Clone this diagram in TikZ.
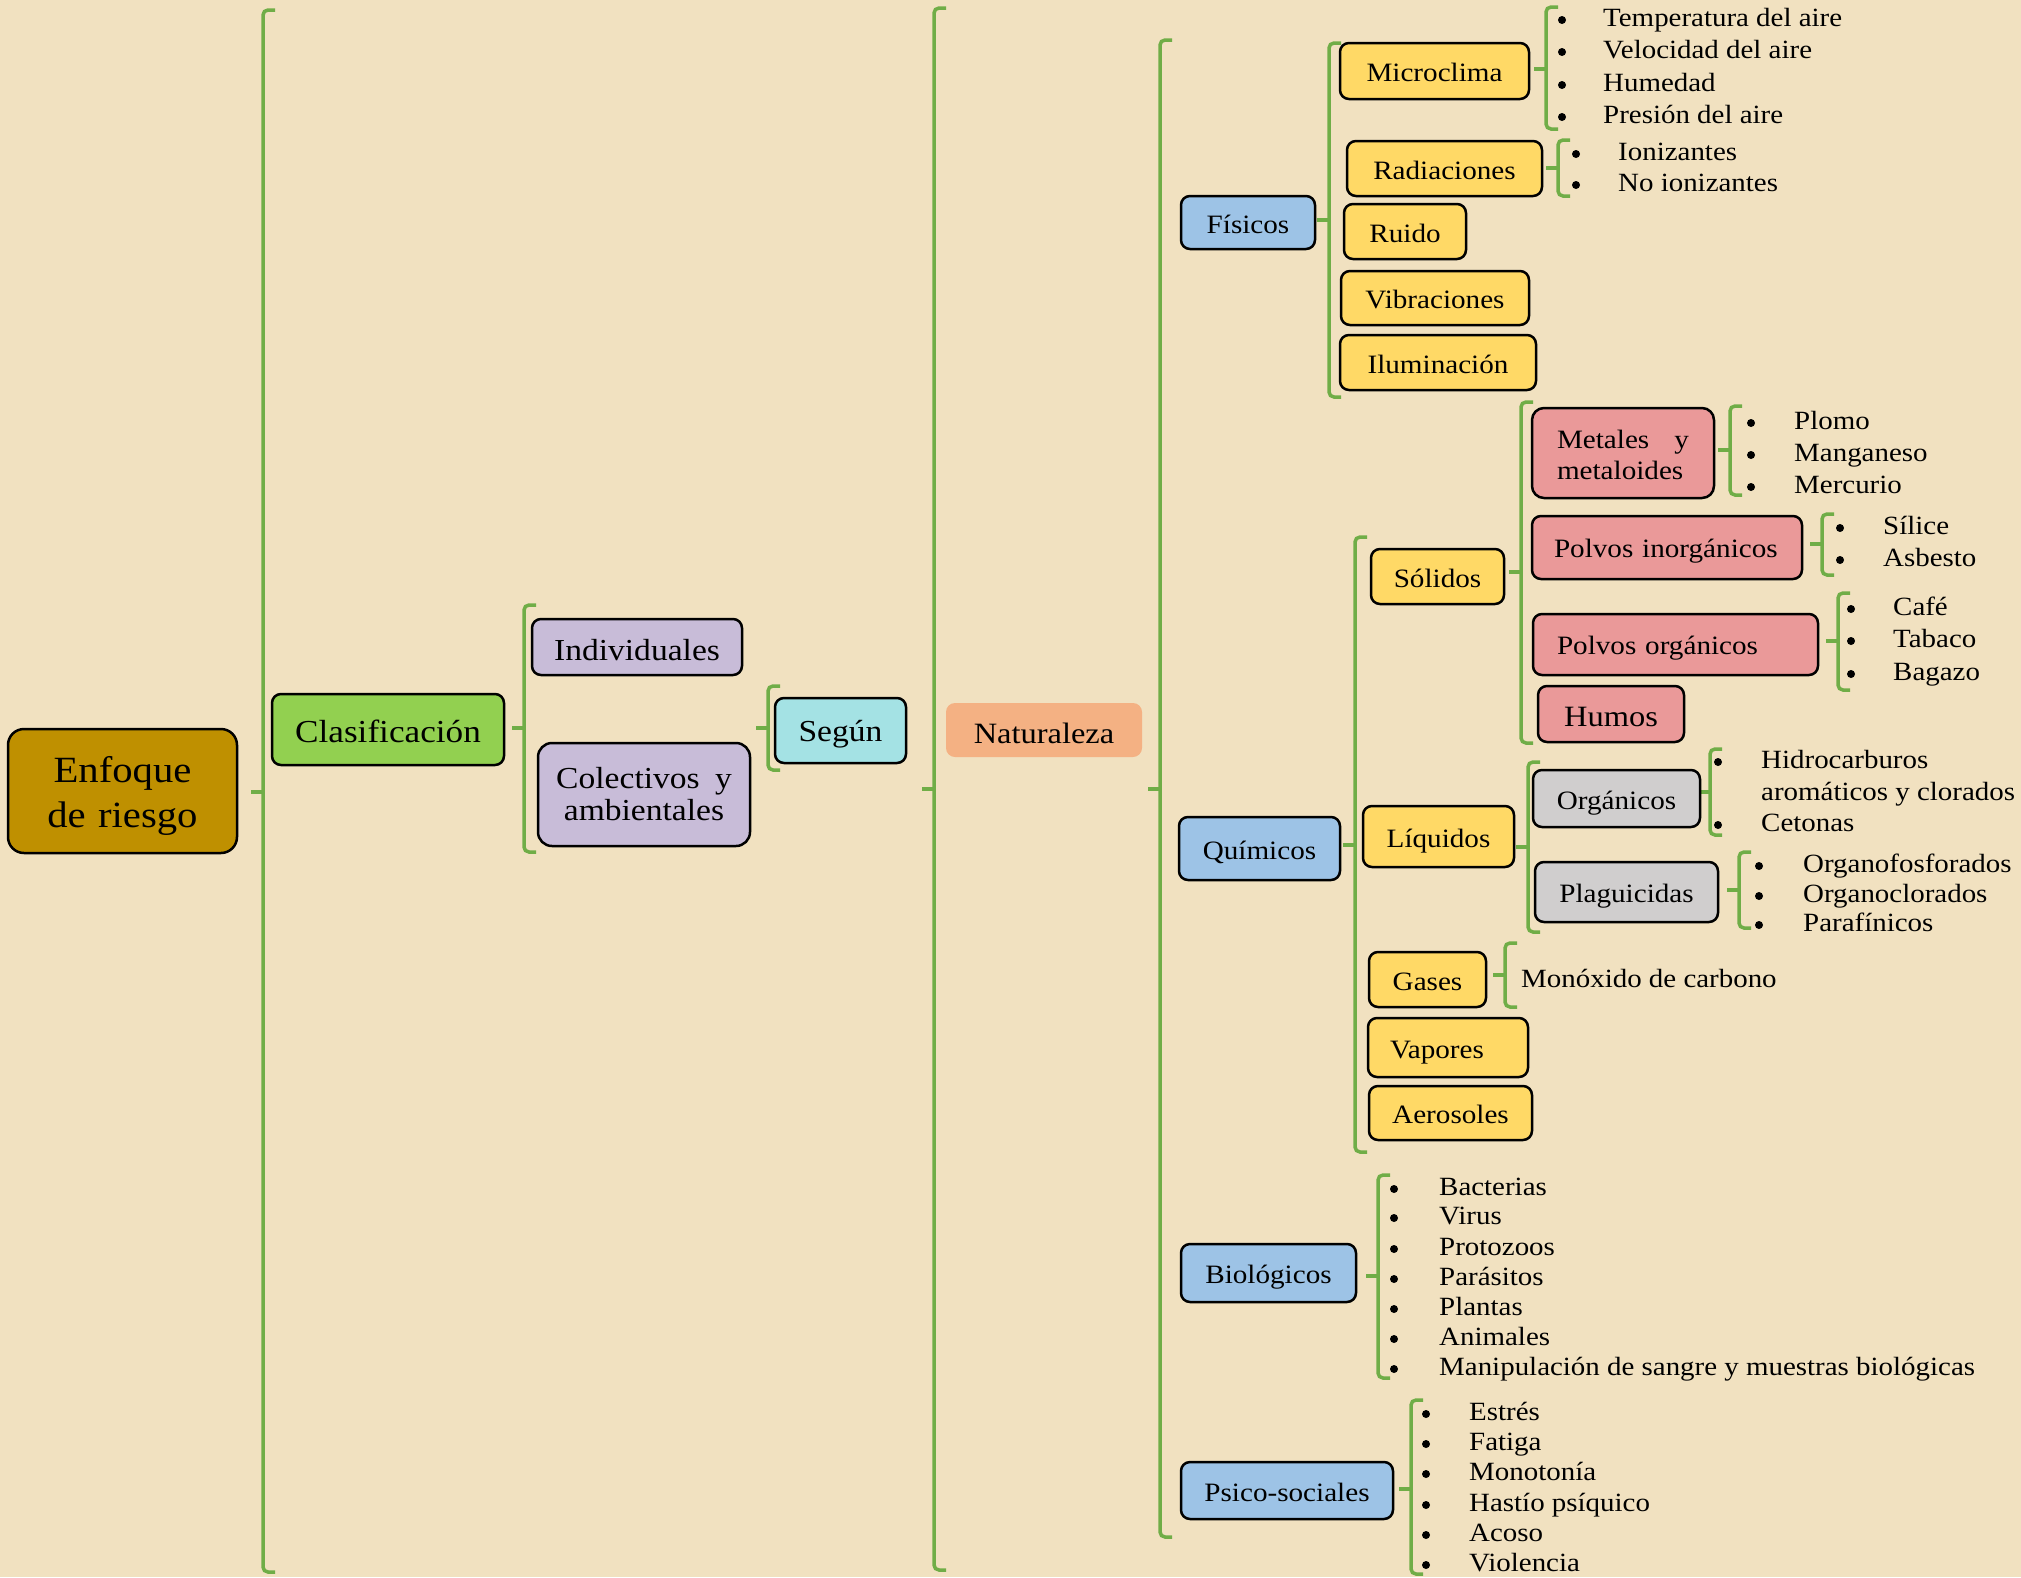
\documentclass[tikz,border=0pt]{standalone}
\usepackage{fontspec}
\setmainfont{Liberation Serif}[FakeStretch=1.1]
\usetikzlibrary{calc}
\definecolor{bg}{HTML}{F1E1C0}
\definecolor{brgreen}{HTML}{70AD47}
\definecolor{gold}{HTML}{BF9000}
\definecolor{lgreen}{HTML}{92D050}
\definecolor{lav}{HTML}{C8BCD8}
\definecolor{cyanbox}{HTML}{A4E2E4}
\definecolor{orng}{HTML}{F4B183}
\definecolor{bluebox}{HTML}{9DC3E6}
\definecolor{yel}{HTML}{FFD966}
\definecolor{pinkbox}{HTML}{EA9999}
\definecolor{graybox}{HTML}{D0CECE}
\newcommand\fsbox{\fontsize{26.5}{31}\selectfont}
\newcommand\fslist{\fontsize{26.3}{31}\selectfont}
\newcommand\fsenf{\fontsize{37}{45}\selectfont}
\newcommand\fscla{\fontsize{32}{36}\selectfont}
\newcommand\fsmid{\fontsize{30.5}{32}\selectfont}
\newcommand\fsnat{\fontsize{29.5}{32}\selectfont}
\newcommand\fshum{\fontsize{29.5}{32}\selectfont}
\newcommand\bx[9]{%
  \pgfmathsetmacro\bxw{#4-#2-2*#8}%
  \pgfmathsetmacro\bxh{#5-#3}%
  \node[box,#6,inner xsep=#8pt,text width=\bxw pt,minimum height=\bxh pt,align=#7] (#1) at ({(#2+#4)/2},{(#3+#5)/2}) {#9};}
\newcommand\itm[5]{%
  \node[blt] (#1b) at (#2,#4+2) {};
  \node[lst] (#1) at (#3,#4+6) {#5};}
\newcommand\grbrace[4]{%
  \draw[gbr,rounded corners=5pt] (#1+12,#2) -- (#1,#2) -- (#1,#3) -- (#1+12,#3);
  \draw[gbr] (#1,#4) -- (#1-12,#4);}
\begin{document}
\begin{tikzpicture}[x=1pt,y=-1pt,
  box/.style={draw=black,line width=2.5pt,rounded corners=9pt,font=\fsbox,inner ysep=0pt,text=black,text height=22pt,text depth=1pt},
  big/.style={text height=27pt,text depth=1pt},
  gbr/.style={draw=brgreen,line width=3.5pt},
  lst/.style={font=\fslist,anchor=mid west,inner sep=0pt,text=black},
  blt/.style={circle,fill=black,inner sep=0pt,minimum size=8pt}]
\useasboundingbox (0,0) rectangle (2021,1577);
\fill[bg] (0,0) rectangle (2021,1577);

% braces
\grbrace{263}{10}{1572}{792}
\grbrace{524}{605}{852}{728}
\grbrace{768}{686}{770}{728}
\grbrace{934}{8}{1570}{789}
\grbrace{1160}{40}{1537}{789}
\grbrace{1329}{43}{397}{220}
\grbrace{1546}{7}{129}{69}
\grbrace{1558}{140}{196}{168}
\grbrace{1355}{537}{1152}{845}
\grbrace{1521}{402}{743}{572}
\grbrace{1730}{406}{495}{450}
\grbrace{1822}{514}{575}{544}
\grbrace{1838}{593}{690}{641}
\grbrace{1528}{762}{932}{847}
\grbrace{1710}{749}{835}{792}
\grbrace{1739}{852}{928}{890}
\grbrace{1505}{943}{1007}{975}
\grbrace{1378}{1175}{1378}{1276}
\grbrace{1411}{1400}{1574}{1489}

% boxes
\bx{enf}{8}{729}{237}{853}{fill=gold,font=\fsenf,rounded corners=16pt,text height=25pt,text depth=43pt}{center}{4}{Enfoque\\de riesgo}
\bx{cla}{272}{694}{504}{765}{fill=lgreen,font=\fscla,big}{center}{4}{Clasificación}
\bx{ind}{532}{619}{742}{675}{fill=lav,font=\fsmid,big}{center}{4}{Individuales}
\bx{col}{538}{743}{750}{846}{fill=lav,font=\fsmid,rounded corners=14pt,text height=21pt,text depth=34pt}{center}{4}{Colectivos\enspace y\\ambientales}
\bx{seg}{775}{698}{906}{763}{fill=cyanbox,font=\fsmid,text height=23pt}{center}{4}{Según}
\bx{nat}{946}{703}{1142}{757}{fill=orng,draw=none,font=\fsnat,big}{center}{4}{Naturaleza}
\bx{fis}{1181}{196}{1315}{249}{fill=bluebox}{center}{4}{Físicos}
\bx{mic}{1340}{43}{1529}{99}{fill=yel}{center}{4}{Microclima}
\bx{rad}{1347}{141}{1542}{196}{fill=yel}{center}{4}{Radiaciones}
\bx{rui}{1344}{204}{1466}{259}{fill=yel}{center}{4}{Ruido}
\bx{vib}{1341}{271}{1529}{325}{fill=yel}{center}{4}{Vibraciones}
\bx{ilu}{1340}{335}{1536}{390}{fill=yel}{center}{4}{Iluminación}
\bx{qui}{1179}{817}{1340}{880}{fill=bluebox}{center}{4}{Químicos}
\bx{sol}{1371}{549}{1504}{604}{fill=yel}{center}{4}{Sólidos}
\bx{met}{1532}{408}{1714}{498}{fill=pinkbox,rounded corners=12pt,text height=18pt,text depth=27.4pt}{left}{25}{Metales\hfill y\\metaloides}
\bx{pin}{1532}{516}{1802}{579}{fill=pinkbox,text height=20pt}{left}{22}{\mbox{Polvos inorgánicos}}
\bx{por}{1533}{614}{1818}{675}{fill=pinkbox,text height=20pt}{left}{24}{\mbox{Polvos orgánicos}}
\bx{hum}{1538}{686}{1684}{742}{fill=pinkbox,font=\fshum,text height=26pt}{center}{4}{Humos}
\bx{liq}{1363}{806}{1514}{867}{fill=yel}{center}{4}{Líquidos}
\bx{org}{1533}{770}{1700}{827}{fill=graybox}{center}{4}{Orgánicos}
\bx{pla}{1535}{862}{1718}{922}{fill=graybox}{center}{4}{Plaguicidas}
\bx{gas}{1369}{952}{1486}{1007}{fill=yel}{center}{4}{Gases}
\bx{vap}{1368}{1018}{1528}{1077}{fill=yel}{left}{22}{Vapores}
\bx{aer}{1369}{1086}{1532}{1140}{fill=yel}{center}{4}{Aerosoles}
\bx{bio}{1181}{1244}{1356}{1302}{fill=bluebox}{center}{4}{Biológicos}
\bx{psi}{1181}{1462}{1393}{1519}{fill=bluebox}{center}{4}{Psico-sociales}

% lists
\itm{g1}{1562}{1603}{18}{Temperatura del aire}
\itm{g2}{1562}{1603}{50}{Velocidad del aire}
\itm{g3}{1562}{1603}{83}{Humedad}
\itm{g4}{1562}{1603}{115}{Presión del aire}
\itm{h1}{1576}{1618}{152}{Ionizantes}
\itm{h2}{1576}{1618}{183}{No ionizantes}
\itm{k1}{1751}{1794}{421}{Plomo}
\itm{k2}{1751}{1794}{453}{Manganeso}
\itm{k3}{1751}{1794}{485}{Mercurio}
\itm{l1}{1840}{1883}{526}{Sílice}
\itm{l2}{1840}{1883}{558}{Asbesto}
\itm{m1}{1851}{1893}{607}{Café}
\itm{m2}{1851}{1893}{639}{Tabaco}
\itm{m3}{1851}{1893}{672}{Bagazo}
\itm{o1}{1718}{1761}{760}{Hidrocarburos}
\node[lst] (o2) at (1761,798) {aromáticos y clorados};
\itm{o3}{1718}{1761}{823}{Cetonas}
\itm{p1}{1759}{1803}{864}{Organofosforados}
\itm{p2}{1759}{1803}{894}{Organoclorados}
\begin{scope}
\clip (1700,900) rectangle (2021,931);
\itm{p3}{1759}{1803}{923}{Parafínicos}
\end{scope}
\node[lst] (q1) at (1521,985) {Monóxido de carbono};
\itm{r1}{1394}{1439}{1187}{Bacterias}
\itm{r2}{1394}{1439}{1216}{Virus}
\itm{r3}{1394}{1439}{1247}{Protozoos}
\itm{r4}{1394}{1439}{1277}{Parásitos}
\itm{r5}{1394}{1439}{1307}{Plantas}
\itm{r6}{1394}{1439}{1337}{Animales}
\itm{r7}{1394}{1439}{1367}{Manipulación de sangre y muestras biológicas}
\itm{s1}{1426}{1469}{1412}{Estrés}
\itm{s2}{1426}{1469}{1442}{Fatiga}
\itm{s3}{1426}{1469}{1472}{Monotonía}
\itm{s4}{1426}{1469}{1503}{Hastío psíquico}
\itm{s5}{1426}{1469}{1533}{Acoso}
\itm{s6}{1426}{1469}{1563}{Violencia}
\end{tikzpicture}
\end{document}
